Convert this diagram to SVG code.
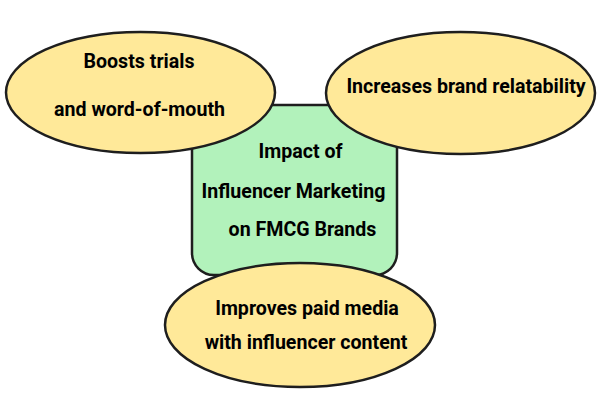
<svg xmlns="http://www.w3.org/2000/svg" width="600" height="400" viewBox="0 0 600 400">
<style>
.n{stroke:#1e1e1e;stroke-width:2.5}
.g{fill:#b2f2bb}
.y{fill:#ffe999}
text{font-family:Roboto,"Liberation Sans",sans-serif;font-weight:bold;font-size:19.6px;fill:#000;text-anchor:middle}
</style>
<rect width="600" height="400" fill="#fff"/>
<g id="connectors"></g>
<g id="center">
<rect class="n g" x="192" y="105" width="205" height="170" rx="22"/>
<text x="300.5" y="158">Impact of</text>
<text x="293.5" y="198">Influencer Marketing</text>
<text x="302.5" y="236">on FMCG Brands</text>
</g>
<g id="boosts">
<ellipse class="n y" cx="140.5" cy="92.5" rx="134.5" ry="60.5"/>
<text x="139" y="68">Boosts trials</text>
<text x="139.5" y="116">and word-of-mouth</text>
</g>
<g id="relatability">
<ellipse class="n y" cx="460.5" cy="93" rx="134.5" ry="61"/>
<text x="466" y="93">Increases brand relatability</text>
</g>
<g id="paidmedia">
<ellipse class="n y" cx="300" cy="325" rx="135" ry="62"/>
<text x="307" y="315">Improves paid media</text>
<text x="306" y="349">with influencer content</text>
</g>
</svg>
